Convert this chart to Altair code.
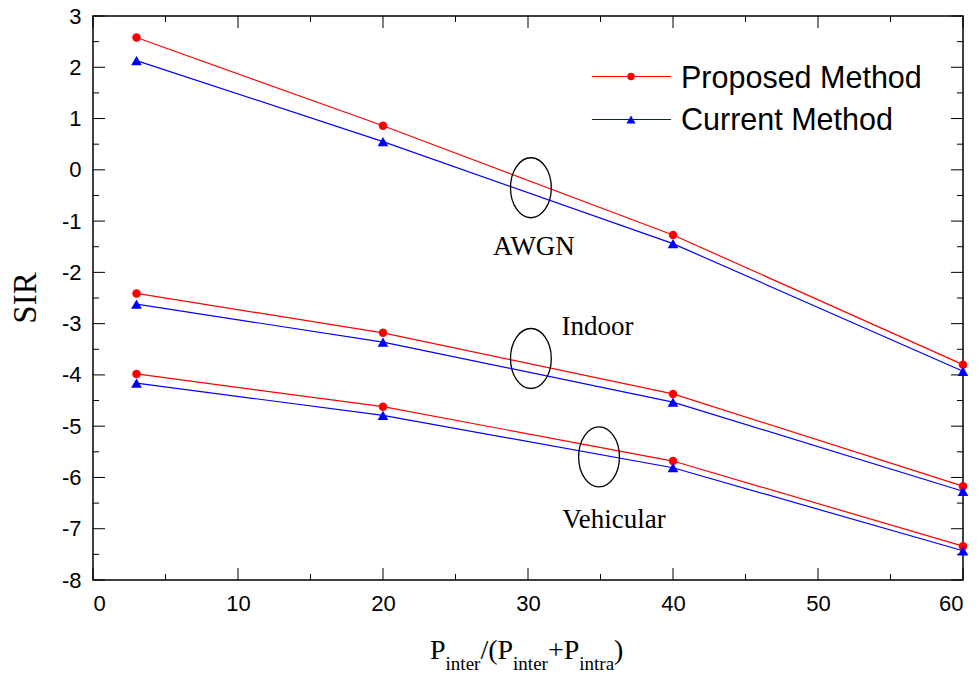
import altair as alt
import pandas as pd

# ---------------- data ----------------
x_vals = [3, 20, 40, 60]
awgn_proposed = [2.58, 0.86, -1.27, -3.80]
awgn_current = [2.13, 0.55, -1.44, -3.93]
indoor_proposed = [-2.41, -3.18, -4.37, -6.17]
indoor_current = [-2.62, -3.36, -4.53, -6.27]
veh_proposed = [-3.98, -4.62, -5.68, -7.34]
veh_current = [-4.16, -4.79, -5.81, -7.43]

methods = ["Proposed Method", "Current Method"]
colors = ["#ff0000", "#0000ff"]

x_major = [0, 10, 20, 30, 40, 50, 60]
x_minor = [5, 15, 25, 35, 45, 55]
y_major = list(range(-8, 4))
y_minor = [v + 0.5 for v in range(-8, 3)]

# annotation anchors (data coords)
ell_x = [30.2, 30.2, 34.9]
ell_y = [-0.35, -3.68, -5.60]
lab_text = ["AWGN", "Indoor", "Vehicular"]
lab_x = [30.41, 34.79, 35.93]
lab_y = [-1.66, -3.23, -6.99]

W, H = 870, 564
SANS = "Liberation Sans"
SERIF = "Liberation Serif"

rows = []
for ch, p, c in [("AWGN", awgn_proposed, awgn_current),
                 ("Indoor", indoor_proposed, indoor_current),
                 ("Vehicular", veh_proposed, veh_current)]:
    for xv, yv in zip(x_vals, p):
        rows.append({"x": xv, "y": yv, "method": methods[0], "channel": ch})
    for xv, yv in zip(x_vals, c):
        rows.append({"x": xv, "y": yv, "method": methods[1], "channel": ch})
df = pd.DataFrame(rows)

xs = alt.Scale(domain=[0, 60], nice=False, zero=False)
ys = alt.Scale(domain=[-8, 3], nice=False, zero=False)
cscale = alt.Scale(domain=methods, range=colors)

x_axis = alt.Axis(values=x_major, ticks=False, domain=False, grid=False, title=None,
                  labelFont=SANS, labelFontSize=22, labelColor="black", labelPadding=13,
                  labelExpr="'' + datum.value")
y_axis = alt.Axis(values=y_major, ticks=False, domain=False, grid=False, title=None,
                  labelFont=SANS, labelFontSize=22, labelColor="black", labelPadding=12,
                  labelExpr="'' + datum.value")

base = alt.Chart(df)
lines = base.mark_line(strokeWidth=1.2).encode(
    x=alt.X("x:Q", scale=xs, axis=x_axis),
    y=alt.Y("y:Q", scale=ys, axis=y_axis),
    color=alt.Color("method:N", scale=cscale, legend=None),
    detail="channel:N",
)
pts_p = base.transform_filter(alt.datum.method == methods[0]).mark_point(
    shape="circle", filled=True, size=72, opacity=1).encode(
    x="x:Q", y="y:Q", color=alt.Color("method:N", scale=cscale, legend=None))
pts_c = base.transform_filter(alt.datum.method == methods[1]).mark_point(
    shape="triangle-up", filled=True, size=115, opacity=1).encode(
    x="x:Q", y="y:Q", color=alt.Color("method:N", scale=cscale, legend=None))

# ---------------- ticks (inward) ----------------
def vticks(vals, length):
    d = pd.DataFrame({"v": vals})
    bot = alt.Chart(d).mark_rule(color="black", strokeWidth=1).encode(
        x="v:Q", y=alt.value(H), y2=alt.value(H - length))
    top = alt.Chart(d).mark_rule(color="black", strokeWidth=1).encode(
        x="v:Q", y=alt.value(0), y2=alt.value(length))
    return [bot, top]

def hticks(vals, length):
    d = pd.DataFrame({"v": vals})
    left = alt.Chart(d).mark_rule(color="black", strokeWidth=1).encode(
        y="v:Q", x=alt.value(0), x2=alt.value(length))
    right = alt.Chart(d).mark_rule(color="black", strokeWidth=1).encode(
        y="v:Q", x=alt.value(W), x2=alt.value(W - length))
    return [left, right]

tick_layers = vticks(x_major, 12) + vticks(x_minor, 6) + hticks(y_major, 12) + hticks(y_minor, 6)

# ---------------- ellipses & labels ----------------
ellipse_path = ("M0,-1 C0.3756,-1 0.68,-0.5523 0.68,0 C0.68,0.5523 0.3756,1 0,1 "
                "C-0.3756,1 -0.68,0.5523 -0.68,0 C-0.68,-0.5523 -0.3756,-1 0,-1 Z")
ell = alt.Chart(pd.DataFrame({"x": ell_x, "y": ell_y})).mark_point(
    shape=ellipse_path, size=3600, filled=False, color="black", strokeWidth=1.3, opacity=1
).encode(x="x:Q", y="y:Q")
labs = alt.Chart(pd.DataFrame({"x": lab_x, "y": lab_y, "t": lab_text})).mark_text(
    font=SERIF, fontSize=27, align="center", baseline="alphabetic", color="black"
).encode(x="x:Q", y="y:Q", text="t:N")

# ---------------- legend ----------------
one = pd.DataFrame({"a": [0]})
leg_y = [60.5, 103.5]
leg_text_y = [71.5, 114]
leg_shapes = ["circle", "triangle-up"]
leg_sizes = [55, 85]
legend_layers = []
for i in range(2):
    legend_layers.append(alt.Chart(one).mark_rule(color=colors[i], strokeWidth=1.2).encode(
        x=alt.value(499), x2=alt.value(578), y=alt.value(leg_y[i])))
    legend_layers.append(alt.Chart(one).mark_point(
        shape=leg_shapes[i], filled=True, size=leg_sizes[i], color=colors[i], opacity=1).encode(
        x=alt.value(538), y=alt.value(leg_y[i])))
    legend_layers.append(alt.Chart(one).mark_text(
        font=SANS, fontSize=30.5, align="left", baseline="alphabetic", color="black").encode(
        x=alt.value(588), y=alt.value(leg_text_y[i]), text=alt.value(methods[i])))

# ---------------- axis titles ----------------
title_layers = []
title_layers.append(alt.Chart(one).mark_text(
    font=SERIF, fontSize=33, angle=270, align="center", baseline="middle", color="black").encode(
    x=alt.value(-67), y=alt.value(282), text=alt.value("SIR")))

# x title: P_inter/(P_inter+P_intra)
tnr = {"P": .556, "/": .278, "(": .333, "+": .564, ")": .333,
       "i": .278, "n": .5, "t": .278, "e": .444, "r": .333, "a": .444}
pieces = [("P", False), ("inter", True), ("/(P", False), ("inter", True),
          ("+P", False), ("intra", True), (")", False)]
BIG, SUB = 28, 19
cx = 337
for txt, sub in pieces:
    fs = SUB if sub else BIG
    yb = 654 if sub else 643
    title_layers.append(alt.Chart(one).mark_text(
        font=SERIF, fontSize=fs, align="left", baseline="alphabetic", color="black").encode(
        x=alt.value(cx), y=alt.value(yb), text=alt.value(txt)))
    cx += sum(tnr[ch] for ch in txt) * fs

chart = alt.layer(
    lines, *tick_layers, pts_p, pts_c, ell, labs, *legend_layers, *title_layers
).properties(
    width=W, height=H,
    autosize=alt.AutoSizeParams(type="none"),
    padding={"left": 93, "top": 16, "right": 16, "bottom": 97},
    background="white",
).configure_view(stroke="black", strokeWidth=1.5)

chart.save("out.html", embed_options={"renderer": "svg", "actions": False})
